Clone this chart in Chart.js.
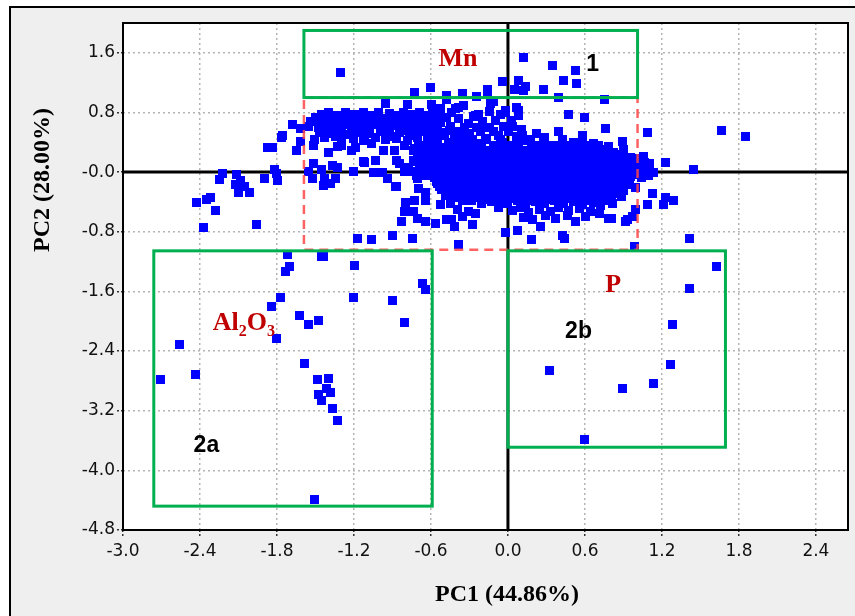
<!DOCTYPE html>
<html>
<head>
<meta charset="utf-8">
<script src="https://cdn.jsdelivr.net/npm/chart.js@4.4.1/dist/chart.umd.min.js"></script>
<style>
  html, body { margin: 0; padding: 0; background: #ffffff; }
  #wrap { position: relative; width: 855px; height: 616px; }
</style>
</head>
<body>
<div id="wrap"><canvas id="pcaChart"></canvas></div>
<script>
// PCA score plot - PC1 vs PC2

// tick labels
const xTicks = [-3.0, -2.4, -1.8, -1.2, -0.6, 0.0, 0.6, 1.2, 1.8, 2.4];
const xTickLabels = ['-3.0', '-2.4', '-1.8', '-1.2', '-0.6', '0.0', '0.6', '1.2', '1.8', '2.4'];
const yTicks = [-4.8, -4.0, -3.2, -2.4, -1.6, -0.8, 0.0, 0.8, 1.6];
const yTickLabels = ['-4.8', '-4.0', '-3.2', '-2.4', '-1.6', '-0.8', '-0.0', '0.8', '1.6'];

// samples in group 1 (Mn, top box)
const group1 = [
  [-1.31, 1.34], [0.12, 1.55], [0.34, 1.44], [0.52, 1.37], [0.43, 1.24], [0.53, 1.19],
  [0.08, 1.24], [-0.05, 1.22], [0.13, 1.15], [0.05, 1.12], [0.12, 1.10], [0.27, 1.11],
  [-0.16, 1.12], [-0.61, 1.14], [-0.73, 1.08], [-0.36, 1.06], [-0.48, 1.03], [-0.25, 1.02],
  [-0.16, 1.05], [0.39, 1.01], [0.75, 0.98]
];

// samples in group 2a (Al2O3)
const group2a = [
  [-2.71, -2.78], [-2.56, -2.31], [-2.44, -2.71], [-1.85, -1.79], [-1.78, -1.68], [-1.81, -2.23],
  [-1.63, -1.91], [-1.56, -2.04], [-1.48, -1.98], [-1.59, -2.56], [-1.49, -2.78], [-1.40, -2.76],
  [-1.42, -2.90], [-1.39, -2.95], [-1.48, -2.98], [-1.46, -3.06], [-1.37, -3.16], [-1.33, -3.33],
  [-1.51, -4.38], [-1.72, -1.10], [-1.71, -1.26], [-1.74, -1.33], [-1.44, -1.12], [-1.46, -1.13],
  [-1.20, -1.24], [-1.21, -1.68], [-0.90, -1.71], [-0.81, -2.01], [-0.67, -1.49], [-0.65, -1.57]
];

// samples in group 2b (P)
const group2b = [
  [1.62, -1.26], [1.41, -1.56], [1.28, -2.04], [1.26, -2.58], [1.13, -2.83], [0.89, -2.89],
  [0.32, -2.66], [0.59, -3.58]
];

// left tail and scattered samples
const scattered = [
  [-2.43, -0.40], [-2.35, -0.36], [-2.32, -0.33], [-2.28, -0.51], [-2.38, -0.73], [-2.25, -0.09],
  [-2.23, -0.01], [-2.12, -0.03], [-2.09, -0.10], [-2.13, -0.16], [-2.06, -0.18], [-2.10, -0.26],
  [-2.02, -0.26], [-1.96, -0.70], [-1.90, -0.08], [-1.88, 0.34], [-1.84, 0.34], [-1.82, 0.04],
  [-1.81, -0.01], [-1.80, -0.11], [-1.76, 0.50], [-1.77, 0.47], [-1.68, 0.64], [-1.62, 0.59],
  [-1.62, 0.42], [-1.65, 0.29],
  [-1.18, -0.88], [-1.07, -0.90], [-0.90, -0.84], [-0.75, -0.88], [-0.83, -0.66], [-0.80, -0.40],
  [-0.73, -0.38], [-0.65, -0.38], [-0.70, -0.21], [-0.65, -0.26], [-0.88, -0.18], [-0.81, -0.52],
  [-0.74, -0.52], [-0.71, -0.61], [-0.65, -0.66], [-0.57, -0.68], [-0.53, -0.43], [-0.54, -0.19],
  [-0.48, -0.14], [-0.48, -0.63], [-0.42, -0.72], [-0.39, -0.96], [-0.44, -0.63], [-0.28, -0.70],
  [-0.26, -0.55], [-0.02, -0.80], [0.07, -0.77], [0.18, -0.90], [0.19, -0.63], [0.25, -0.72],
  [0.42, -0.84], [0.44, -0.88], [0.52, -0.66], [0.60, -0.59], [0.71, -0.55], [0.78, -0.62],
  [0.80, -0.61], [0.93, -0.63], [0.91, -0.66], [0.97, -0.59], [0.99, -0.49], [0.98, -0.99],
  [0.81, -0.41], [0.88, -0.32], [1.08, -0.43], [1.12, -0.28], [1.22, -0.33], [1.21, -0.43],
  [1.29, -0.38], [1.41, -0.88], [1.44, 0.04], [1.22, 0.14], [1.66, 0.56], [1.85, 0.49],
  [1.08, 0.54], [0.89, 0.42], [0.76, 0.59], [0.59, 0.74], [0.47, 0.78], [0.39, 0.55],
  [0.58, 0.50], [0.64, 0.36], [0.58, 0.47], [0.51, 0.41], [0.66, 0.39], [0.28, 0.47],
  [0.11, 0.50], [0.06, 0.87], [-0.02, 0.83], [-0.12, 0.96], [-0.10, 0.70], [-0.18, 0.61],
  [-0.26, 0.76], [-0.39, 0.87], [-0.14, 0.93], [-0.35, 0.90], [-0.41, 0.86], [0.08, 0.83],
  [0.08, 0.76], [-0.02, 0.81], [-0.06, 0.78], [-0.23, 0.78], [-0.27, 0.75], [-0.39, 0.72],
  [-0.34, 0.60], [-0.46, 0.56], [-0.53, 0.67], [-0.50, 0.50], [-0.42, 0.48], [-0.30, 0.52],
  [-0.22, 0.55], [-0.15, 0.60], [-0.04, 0.62], [0.02, 0.70], [-0.08, 0.50], [0.00, 0.55],
  [0.06, 0.48], [-0.18, 0.46], [-0.28, 0.45], [-0.38, 0.44],
  [-0.45, 0.62], [-0.40, 0.55], [-0.33, 0.50], [-0.25, 0.60], [-0.20, 0.68], [-0.12, 0.55],
  [-0.06, 0.45], [0.03, 0.62], [-0.48, 0.74], [-0.44, 0.80], [-0.31, 0.66], [-0.15, 0.82],
  [0.10, 0.58], [0.17, 0.45], [0.22, 0.52]
];

// upper-left band of samples
const upperBand = [
  [-1.46, 0.78], [-1.40, 0.80], [-1.33, 0.77], [-1.27, 0.81], [-1.20, 0.78], [-1.13, 0.80],
  [-1.06, 0.77], [-1.01, 0.81], [-0.93, 0.79], [-0.87, 0.76], [-0.82, 0.80], [-0.75, 0.78],
  [-0.69, 0.81], [-0.62, 0.77], [-0.55, 0.80], [-0.96, 0.93], [-0.79, 0.92], [-0.60, 0.92],
  [-0.59, 0.84], [-0.53, 0.86], [-0.48, 0.98],
  [-1.50, 0.74], [-1.36, 0.75], [-1.30, 0.73], [-1.16, 0.74], [-1.09, 0.75], [-0.96, 0.73],
  [-0.89, 0.74], [-0.77, 0.75], [-0.71, 0.73], [-0.57, 0.74],
  [-1.54, 0.69], [-1.49, 0.71], [-1.43, 0.68], [-1.37, 0.72], [-1.31, 0.69], [-1.25, 0.71],
  [-1.18, 0.68], [-1.12, 0.72], [-1.05, 0.69], [-0.99, 0.71], [-0.92, 0.68], [-0.86, 0.72],
  [-0.79, 0.69], [-0.73, 0.71], [-0.66, 0.68], [-0.60, 0.72], [-0.54, 0.69],
  [-1.45, 0.66], [-1.32, 0.65], [-1.19, 0.67], [-1.06, 0.66], [-0.92, 0.65], [-0.85, 0.67],
  [-0.71, 0.66], [-0.57, 0.65],
  [-1.56, 0.62], [-1.48, 0.60], [-1.41, 0.63], [-1.35, 0.61], [-1.28, 0.64], [-1.22, 0.60],
  [-1.15, 0.63], [-1.09, 0.61], [-1.02, 0.64], [-0.95, 0.60], [-0.88, 0.63], [-0.82, 0.61],
  [-0.75, 0.64], [-0.68, 0.60], [-0.61, 0.63], [-0.55, 0.61],
  [-1.44, 0.58], [-1.30, 0.57], [-1.18, 0.58], [-1.11, 0.57], [-0.98, 0.58], [-0.84, 0.57],
  [-0.72, 0.58], [-0.65, 0.57],
  [-1.47, 0.54], [-1.39, 0.52], [-1.31, 0.55], [-1.24, 0.51], [-1.16, 0.54], [-1.08, 0.52],
  [-1.00, 0.55], [-0.93, 0.51], [-0.85, 0.54], [-0.77, 0.52], [-0.69, 0.55], [-0.60, 0.51],
  [-0.52, 0.54], [-1.35, 0.49], [-1.12, 0.50], [-0.89, 0.49], [-0.73, 0.50], [-0.56, 0.49],
  [-1.51, 0.45], [-1.43, 0.47], [-1.30, 0.44], [-1.21, 0.46], [-1.13, 0.43], [-1.04, 0.47],
  [-0.96, 0.44], [-0.87, 0.46], [-0.79, 0.43], [-0.71, 0.47], [-0.63, 0.44],
  [-1.52, 0.37], [-1.33, 0.35], [-1.30, 0.37], [-1.19, 0.34], [-1.07, 0.39], [-0.97, 0.30],
  [-0.89, 0.30], [-0.81, 0.36], [-0.73, 0.33], [-0.64, 0.37], [-1.22, 0.30], [-1.40, 0.27],
  [-1.12, 0.14], [-1.04, 0.16], [-0.87, 0.16], [-0.85, 0.12], [-0.74, 0.16], [-0.63, 0.22],
  [-1.52, 0.12], [-1.13, 0.15],
  [-1.56, 0.02], [-1.46, 0.04], [-1.37, 0.10], [-1.33, 0.07], [-1.21, 0.02], [-1.05, 0.00],
  [-0.98, 0.00], [-0.81, 0.02], [-0.74, 0.02], [-1.53, -0.08], [-1.43, -0.08], [-1.39, -0.15],
  [-1.35, -0.08], [-1.44, -0.17], [-0.94, -0.08], [-0.87, -0.18], [-0.71, -0.08]
];

// dense core of samples around the origin
const mainCore = [
  [-0.62, 0.41], [-0.55, 0.44], [-0.47, 0.40], [-0.31, 0.42], [-0.24, 0.39], [-0.17, 0.44],
  [-0.05, 0.41], [0.08, 0.38], [0.15, 0.43], [0.27, 0.40], [0.34, 0.37], [0.42, 0.44],
  [0.57, 0.40], [0.66, 0.37], [0.78, 0.35], [0.90, 0.31], [-0.70, 0.36], [-0.74, 0.30],
  [-0.58, 0.36], [-0.43, 0.37], [-0.37, 0.36], [-0.25, 0.37], [-0.12, 0.36], [0.01, 0.37],
  [0.07, 0.35], [0.21, 0.36], [0.28, 0.37], [0.41, 0.36], [0.49, 0.37], [0.61, 0.35], [0.70, 0.36],
  [-0.66, 0.33], [-0.59, 0.31], [-0.52, 0.34], [-0.46, 0.30], [-0.40, 0.33], [-0.34, 0.31],
  [-0.28, 0.35], [-0.21, 0.32], [-0.15, 0.30], [-0.09, 0.34], [-0.02, 0.31], [0.04, 0.33],
  [0.11, 0.30], [0.18, 0.34], [0.24, 0.31], [0.31, 0.33], [0.38, 0.30], [0.45, 0.34],
  [0.51, 0.31], [0.58, 0.32], [0.64, 0.29], [0.71, 0.31], [0.82, 0.27],
  [-0.68, 0.28], [-0.55, 0.28], [-0.49, 0.29], [-0.37, 0.28], [-0.31, 0.27], [-0.24, 0.29],
  [-0.18, 0.28], [-0.05, 0.27], [0.01, 0.29], [0.07, 0.28], [0.15, 0.27], [0.21, 0.29],
  [0.28, 0.28], [0.35, 0.27], [0.41, 0.29], [0.48, 0.28], [0.55, 0.27], [0.61, 0.29],
  [0.68, 0.28], [0.76, 0.27],
  [-0.71, 0.22], [-0.63, 0.25], [-0.57, 0.23], [-0.50, 0.26], [-0.44, 0.22], [-0.38, 0.25],
  [-0.32, 0.23], [-0.26, 0.26], [-0.19, 0.22], [-0.13, 0.25], [-0.07, 0.23], [0.00, 0.26],
  [0.06, 0.22], [0.13, 0.25], [0.19, 0.23], [0.26, 0.26], [0.32, 0.22], [0.39, 0.25],
  [0.45, 0.23], [0.52, 0.26], [0.58, 0.22], [0.65, 0.25], [0.71, 0.23], [0.77, 0.21],
  [0.86, 0.24], [0.95, 0.20], [1.05, 0.22],
  [-0.67, 0.20], [-0.54, 0.19], [-0.47, 0.21], [-0.41, 0.20], [-0.35, 0.19], [-0.29, 0.21],
  [-0.22, 0.20], [-0.16, 0.19], [-0.10, 0.21], [-0.03, 0.20], [0.03, 0.19], [0.10, 0.21],
  [0.16, 0.20], [0.22, 0.19], [0.29, 0.21], [0.36, 0.20], [0.42, 0.19], [0.48, 0.21],
  [0.55, 0.20], [0.62, 0.19], [0.68, 0.21], [0.74, 0.20], [0.82, 0.19], [0.90, 0.21], [0.99, 0.19],
  [-0.74, 0.15], [-0.66, 0.17], [-0.60, 0.14], [-0.53, 0.18], [-0.47, 0.15], [-0.41, 0.17],
  [-0.35, 0.14], [-0.29, 0.18], [-0.23, 0.15], [-0.16, 0.17], [-0.10, 0.14], [-0.04, 0.18],
  [0.03, 0.15], [0.09, 0.17], [0.16, 0.14], [0.22, 0.18], [0.28, 0.15], [0.35, 0.17],
  [0.41, 0.14], [0.48, 0.18], [0.54, 0.15], [0.61, 0.17], [0.67, 0.14], [0.74, 0.18],
  [0.80, 0.15], [0.87, 0.17], [0.94, 0.13], [1.00, 0.16], [1.10, 0.12],
  [-0.69, 0.12], [-0.56, 0.11], [-0.50, 0.13], [-0.44, 0.12], [-0.38, 0.11], [-0.32, 0.13],
  [-0.26, 0.12], [-0.19, 0.11], [-0.13, 0.13], [-0.07, 0.12], [0.00, 0.11], [0.06, 0.13],
  [0.13, 0.12], [0.19, 0.11], [0.25, 0.13], [0.32, 0.12], [0.38, 0.11], [0.45, 0.13],
  [0.51, 0.12], [0.58, 0.11], [0.64, 0.13], [0.71, 0.12], [0.77, 0.11], [0.84, 0.13],
  [0.91, 0.12], [0.97, 0.11], [1.06, 0.13],
  [-0.78, 0.07], [-0.64, 0.09], [-0.58, 0.06], [-0.51, 0.10], [-0.45, 0.07], [-0.39, 0.09],
  [-0.33, 0.06], [-0.27, 0.10], [-0.20, 0.07], [-0.14, 0.09], [-0.08, 0.06], [-0.01, 0.10],
  [0.05, 0.07], [0.11, 0.09], [0.18, 0.06], [0.24, 0.10], [0.30, 0.07], [0.37, 0.09],
  [0.43, 0.06], [0.50, 0.10], [0.56, 0.07], [0.63, 0.09], [0.69, 0.06], [0.76, 0.10],
  [0.82, 0.07], [0.89, 0.09], [0.96, 0.06], [1.03, 0.08], [1.10, 0.05],
  [-0.65, 0.04], [-0.55, 0.03], [-0.48, 0.05], [-0.42, 0.04], [-0.36, 0.03], [-0.30, 0.05],
  [-0.23, 0.04], [-0.17, 0.03], [-0.11, 0.05], [-0.04, 0.04], [0.02, 0.03], [0.08, 0.05],
  [0.15, 0.04], [0.21, 0.03], [0.27, 0.05], [0.34, 0.04], [0.40, 0.03], [0.47, 0.05],
  [0.53, 0.04], [0.60, 0.03], [0.66, 0.05], [0.72, 0.04], [0.79, 0.03], [0.86, 0.05],
  [0.93, 0.04], [1.00, 0.03], [1.07, 0.05],
  [-0.69, 0.04], [-0.61, 0.01], [-0.55, -0.02], [-0.49, 0.02], [-0.42, -0.01], [-0.36, 0.02],
  [-0.30, -0.02], [-0.24, 0.01], [-0.17, -0.01], [-0.11, 0.02], [-0.05, -0.02], [0.02, 0.01],
  [0.08, -0.01], [0.14, 0.02], [0.21, -0.02], [0.27, 0.01], [0.33, -0.01], [0.40, 0.02],
  [0.46, -0.02], [0.53, 0.01], [0.59, -0.01], [0.66, 0.02], [0.72, -0.02], [0.79, 0.01],
  [0.85, -0.01], [0.92, 0.02], [0.99, -0.01], [1.06, 0.02], [1.13, 0.00],
  [-0.65, -0.04], [-0.55, -0.05], [-0.49, -0.03], [-0.43, -0.04], [-0.37, -0.05], [-0.30, -0.03],
  [-0.24, -0.04], [-0.18, -0.05], [-0.11, -0.03], [-0.05, -0.04], [0.01, -0.05], [0.08, -0.03],
  [0.14, -0.04], [0.20, -0.05], [0.27, -0.03], [0.33, -0.04], [0.39, -0.05], [0.46, -0.03],
  [0.52, -0.04], [0.59, -0.05], [0.65, -0.03], [0.71, -0.04], [0.78, -0.05], [0.84, -0.03],
  [0.91, -0.04], [0.99, -0.03], [1.09, -0.04],
  [-0.72, -0.04], [-0.58, -0.07], [-0.52, -0.10], [-0.46, -0.06], [-0.40, -0.09], [-0.33, -0.07],
  [-0.27, -0.10], [-0.21, -0.06], [-0.14, -0.09], [-0.08, -0.07], [-0.02, -0.10], [0.05, -0.06],
  [0.11, -0.09], [0.17, -0.07], [0.24, -0.10], [0.30, -0.06], [0.36, -0.09], [0.43, -0.07],
  [0.49, -0.10], [0.56, -0.06], [0.62, -0.09], [0.68, -0.07], [0.75, -0.10], [0.81, -0.06],
  [0.88, -0.09], [0.95, -0.05], [1.04, -0.07],
  [-0.56, -0.12], [-0.49, -0.11], [-0.43, -0.13], [-0.37, -0.12], [-0.30, -0.11], [-0.24, -0.13],
  [-0.17, -0.12], [-0.11, -0.11], [-0.05, -0.13], [0.02, -0.12], [0.08, -0.11], [0.14, -0.13],
  [0.21, -0.12], [0.27, -0.11], [0.33, -0.13], [0.40, -0.12], [0.46, -0.11], [0.52, -0.13],
  [0.59, -0.12], [0.65, -0.11], [0.72, -0.13], [0.78, -0.12], [0.86, -0.11], [0.94, -0.12],
  [-0.55, -0.15], [-0.49, -0.18], [-0.43, -0.14], [-0.37, -0.17], [-0.31, -0.15], [-0.24, -0.18],
  [-0.18, -0.14], [-0.12, -0.17], [-0.05, -0.15], [0.01, -0.18], [0.07, -0.14], [0.14, -0.17],
  [0.20, -0.15], [0.26, -0.18], [0.33, -0.14], [0.39, -0.17], [0.46, -0.15], [0.52, -0.18],
  [0.58, -0.14], [0.65, -0.17], [0.71, -0.15], [0.78, -0.18], [0.84, -0.13], [0.92, -0.16],
  [0.99, -0.20],
  [-0.52, -0.20], [-0.46, -0.21], [-0.40, -0.19], [-0.34, -0.20], [-0.27, -0.21], [-0.21, -0.19],
  [-0.15, -0.20], [-0.08, -0.21], [-0.02, -0.19], [0.04, -0.20], [0.11, -0.21], [0.17, -0.19],
  [0.23, -0.20], [0.30, -0.21], [0.36, -0.19], [0.43, -0.20], [0.49, -0.21], [0.55, -0.19],
  [0.62, -0.20], [0.68, -0.21], [0.75, -0.19], [0.81, -0.20], [0.88, -0.21],
  [-0.52, -0.23], [-0.46, -0.26], [-0.40, -0.22], [-0.34, -0.25], [-0.27, -0.23], [-0.21, -0.26],
  [-0.15, -0.22], [-0.08, -0.25], [-0.02, -0.23], [0.04, -0.26], [0.11, -0.22], [0.17, -0.25],
  [0.23, -0.23], [0.30, -0.26], [0.36, -0.22], [0.42, -0.25], [0.49, -0.23], [0.55, -0.26],
  [0.62, -0.22], [0.68, -0.25], [0.75, -0.23], [0.83, -0.27], [0.90, -0.24],
  [-0.49, -0.28], [-0.43, -0.29], [-0.37, -0.27], [-0.30, -0.28], [-0.24, -0.29], [-0.18, -0.27],
  [-0.11, -0.28], [-0.05, -0.29], [0.01, -0.27], [0.07, -0.28], [0.14, -0.29], [0.20, -0.27],
  [0.26, -0.28], [0.33, -0.29], [0.39, -0.27], [0.45, -0.28], [0.52, -0.29], [0.58, -0.27],
  [0.65, -0.28], [0.71, -0.29], [0.78, -0.27], [0.86, -0.28],
  [-0.49, -0.31], [-0.41, -0.34], [-0.33, -0.30], [-0.25, -0.33], [-0.17, -0.31], [-0.10, -0.34],
  [-0.03, -0.30], [0.04, -0.33], [0.10, -0.31], [0.16, -0.34], [0.22, -0.30], [0.29, -0.33],
  [0.35, -0.31], [0.41, -0.34], [0.48, -0.30], [0.54, -0.33], [0.60, -0.31], [0.67, -0.34],
  [0.74, -0.30], [0.80, -0.35],
  [-0.45, -0.36], [-0.29, -0.37], [-0.21, -0.35], [-0.14, -0.36], [-0.07, -0.37], [0.00, -0.35],
  [0.10, -0.36], [0.18, -0.37], [0.25, -0.35], [0.32, -0.36], [0.39, -0.37], [0.46, -0.35],
  [0.55, -0.36], [0.62, -0.37], [0.70, -0.35], [0.77, -0.37],
  [-0.45, -0.41], [-0.36, -0.38], [-0.21, -0.42], [-0.13, -0.39], [-0.01, -0.41], [0.07, -0.38],
  [0.13, -0.42], [0.21, -0.39], [0.28, -0.41], [0.36, -0.38], [0.43, -0.42], [0.51, -0.39],
  [0.58, -0.43], [0.66, -0.40], [0.72, -0.44],
  [-0.40, -0.49], [-0.31, -0.52], [-0.08, -0.47], [0.03, -0.51], [0.09, -0.47], [0.16, -0.53],
  [0.24, -0.49], [0.33, -0.52], [0.39, -0.47], [0.47, -0.51], [0.55, -0.48], [0.64, -0.52],
  [-0.36, -0.59], [0.12, -0.60], [0.29, -0.58], [0.37, -0.61], [0.46, -0.57]
];

// marked regions on the plot (data units)
const greenBoxes = [
  { x1: -1.59, x2: 1.01, y1: 1.0, y2: 1.9 },
  { x1: -2.76, x2: -0.59, y1: -4.48, y2: -1.056 },
  { x1: 0.0, x2: 1.695, y1: -3.69, y2: -1.056 }
];
const redBox = { x1: -1.59, x2: 1.01, y1: -1.04, y2: 1.0 };

const allSamples = [...mainCore, ...upperBand, ...scattered, ...group1, ...group2a, ...group2b]
  .map(p => ({ x: p[0], y: p[1] }));

// 9px squares: chart.js draws a 'rect' of side radius * sqrt(2)
const markerRadius = 4.5 / Math.SQRT1_2;

// frame, zero axes, marked regions and labels
const decorPlugin = {
  id: 'decor',
  beforeDraw(chart) {
    const ctx = chart.ctx;
    const a = chart.chartArea;
    ctx.save();
    ctx.fillStyle = '#ffffff';
    ctx.fillRect(0, 0, chart.width, chart.height);
    ctx.fillStyle = '#efefef';
    ctx.fillRect(10, 7, chart.width - 10, chart.height - 7);
    ctx.strokeStyle = '#000';
    ctx.lineWidth = 2;
    ctx.beginPath();
    ctx.moveTo(10, chart.height);
    ctx.lineTo(10, 7);
    ctx.lineTo(chart.width, 7);
    ctx.stroke();
    ctx.fillStyle = '#ffffff';
    ctx.fillRect(a.left, a.top, a.right - a.left, a.bottom - a.top);
    ctx.restore();
  },
  beforeDatasetsDraw(chart) {
    const ctx = chart.ctx;
    const a = chart.chartArea;
    const x0 = chart.scales.x.getPixelForValue(0);
    const y0 = chart.scales.y.getPixelForValue(0);
    ctx.save();
    ctx.strokeStyle = '#000';
    ctx.lineWidth = 3;
    ctx.beginPath();
    ctx.moveTo(x0, a.top);
    ctx.lineTo(x0, a.bottom);
    ctx.moveTo(a.left, y0);
    ctx.lineTo(a.right, y0);
    ctx.stroke();
    ctx.restore();
    // snap markers to half pixels so the 9px squares land on whole pixels
    chart.getDatasetMeta(0).data.forEach(el => {
      el.x = Math.round(el.x) + 0.5;
      el.y = Math.round(el.y) + 0.5;
    });
  },
  afterDatasetsDraw(chart) {
    const ctx = chart.ctx;
    const a = chart.chartArea;
    const sx = chart.scales.x, sy = chart.scales.y;
    const px = v => sx.getPixelForValue(v);
    const py = v => sy.getPixelForValue(v);
    ctx.save();

    // red dashed box
    ctx.strokeStyle = 'rgba(255, 70, 70, 0.85)';
    ctx.lineWidth = 2.5;
    ctx.setLineDash([9, 6]);
    ctx.strokeRect(px(redBox.x1), py(redBox.y2), px(redBox.x2) - px(redBox.x1), py(redBox.y1) - py(redBox.y2));
    ctx.setLineDash([]);

    // green boxes
    ctx.strokeStyle = '#00b050';
    ctx.lineWidth = 3;
    greenBoxes.forEach(b => {
      ctx.strokeRect(px(b.x1), py(b.y2), px(b.x2) - px(b.x1), py(b.y1) - py(b.y2));
    });

    // plot border
    ctx.strokeStyle = '#000';
    ctx.lineWidth = 2;
    ctx.strokeRect(a.left, a.top, a.right - a.left, a.bottom - a.top);

    // labels
    ctx.textBaseline = 'middle';
    ctx.textAlign = 'center';
    ctx.fillStyle = '#c00000';
    ctx.font = 'bold 26px "Liberation Serif"';
    ctx.fillText('Mn', px(-0.39), py(1.51));
    ctx.fillText('P', px(0.82), py(-1.52));

    // Al2O3 with subscripts
    ctx.textAlign = 'left';
    let lx = px(-2.30);
    const ly = py(-2.03);
    const parts = [['Al', false], ['2', true], ['O', false], ['3', true]];
    parts.forEach(([t, sub]) => {
      ctx.font = sub ? 'bold 16px "Liberation Serif"' : 'bold 26px "Liberation Serif"';
      ctx.fillText(t, lx, sub ? ly + 8 : ly);
      lx += ctx.measureText(t).width;
    });

    ctx.textAlign = 'center';
    ctx.fillStyle = '#000';
    ctx.font = 'bold 23px "Liberation Sans"';
    ctx.fillText('1', px(0.66), py(1.44));
    ctx.fillText('2a', px(-2.35), py(-3.67));
    ctx.fillText('2b', px(0.55), py(-2.14));
    ctx.restore();
  },
  afterDraw(chart) {
    const ctx = chart.ctx;
    ctx.save();
    ctx.fillStyle = '#000';
    ctx.font = 'bold 24px "Liberation Serif"';
    ctx.textAlign = 'center';
    ctx.textBaseline = 'middle';
    ctx.fillText('PC1 (44.86%)', 507, 595);
    ctx.translate(43, 180);
    ctx.rotate(-Math.PI / 2);
    ctx.fillText('PC2 (28.00%)', 0, 0);
    ctx.restore();
  }
};

const tickFont = { family: '"DejaVu Sans"', size: 17 };
const gridStyle = {
  color: '#b4b4b4',
  lineWidth: 1.5,
  tickLength: 6,
  tickColor: '#333',
  tickWidth: 1.5,
  tickBorderDash: [2, 2]
};

const ctx = document.getElementById('pcaChart').getContext('2d');
window.pcaChart = new Chart(ctx, {
  type: 'scatter',
  data: {
    datasets: [{
      label: 'Samples',
      data: allSamples,
      pointStyle: 'rect',
      pointRadius: markerRadius,
      pointHoverRadius: markerRadius,
      pointBorderWidth: 0,
      backgroundColor: '#0000ff',
      borderColor: '#0000ff'
    }]
  },
  options: {
    responsive: true,
    maintainAspectRatio: false,
    animation: false,
    events: [],
    elements: {
      point: { pointStyle: 'rect', radius: markerRadius, hoverRadius: markerRadius, borderWidth: 0, rotation: 0 }
    },
    layout: { padding: { top: 23, right: 7, left: 0, bottom: 0 } },
    plugins: { legend: { display: false }, tooltip: { enabled: false } },
    scales: {
      x: {
        type: 'linear',
        min: -3.0,
        max: 2.65,
        afterBuildTicks: s => { s.ticks = xTicks.map(v => ({ value: v })); },
        afterFit: s => { s.height = 86; },
        ticks: {
          font: tickFont,
          color: '#111',
          padding: 5,
          maxRotation: 0,
          autoSkip: false,
          callback: (v, i) => xTickLabels[i]
        },
        grid: gridStyle,
        border: { display: false, dash: [2, 3] }
      },
      y: {
        type: 'linear',
        min: -4.8,
        max: 2.0,
        afterBuildTicks: s => { s.ticks = yTicks.map(v => ({ value: v })); },
        afterFit: s => { s.width = 123; },
        ticks: {
          font: tickFont,
          color: '#111',
          padding: 2,
          autoSkip: false,
          callback: (v, i) => yTickLabels[i]
        },
        grid: gridStyle,
        border: { display: false, dash: [2, 3] }
      }
    }
  },
  plugins: [decorPlugin]
});
</script>
</body>
</html>
